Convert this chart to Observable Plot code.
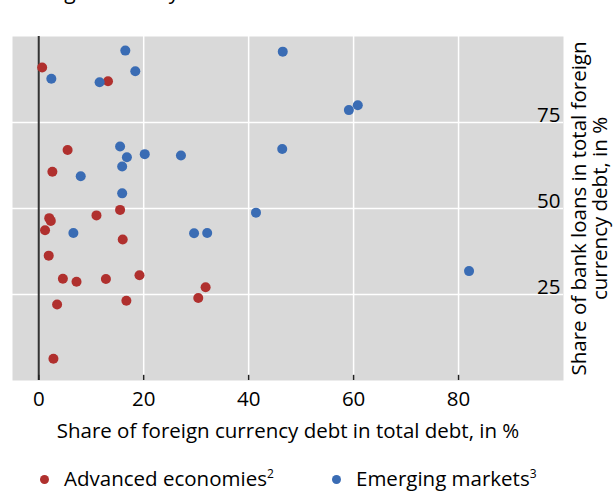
<!DOCTYPE html>
<html>
<head>
<meta charset="utf-8">
<script src="https://cdn.jsdelivr.net/npm/d3@7"></script>
<script src="https://cdn.jsdelivr.net/npm/@observablehq/plot@0.6"></script>
<style>
  html, body { margin: 0; padding: 0; background: #fff; overflow: hidden; }
  body { width: 614px; height: 491px; position: relative; font-family: "Open Sans", sans-serif; color: #000; }
  #title { position: absolute; top: -19px; left: 15px; font-size: 21px; line-height: 21px; white-space: nowrap; }
  #chart { position: absolute; top: 0; left: 0; }
  #legend { position: absolute; top: 465px; left: 0; width: 614px; height: 26px; font-size: 20.5px; line-height: 26px; white-space: nowrap; }
  #legend .item { position: absolute; top: 0; }
  #legend .dot { display: inline-block; width: 9px; height: 9px; border-radius: 50%; vertical-align: middle; margin-right: 15px; position: relative; top: -1px; }
  #legend sup { font-size: 12px; line-height: 0; }
</style>
</head>
<body>
<div id="title">Foreign currency debt and bank loans</div>
<div id="chart"></div>
<div id="legend"></div>
<script>
// Data (x: share of FX debt in total debt, %; y: share of bank loans in total FX debt, %)
const advancedX = [0.65, 13.2, 5.5, 2.6, 15.5, 11.0, 2.0, 2.3, 1.2, 16.0, 1.9, 4.6, 7.2, 12.8, 19.2, 31.8, 30.4, 3.5, 16.7, 2.8];
const advancedY = [91.0, 87.0, 67.0, 60.7, 49.6, 48.0, 47.2, 46.4, 43.7, 41.0, 36.3, 29.6, 28.7, 29.5, 30.6, 27.1, 24.0, 22.1, 23.2, 6.3];
const emergingX = [16.5, 2.4, 11.6, 18.4, 15.5, 16.8, 20.2, 27.1, 15.9, 8.0, 15.9, 6.6, 29.6, 32.1, 46.5, 59.1, 60.8, 46.4, 41.4, 82.0];
const emergingY = [95.9, 87.7, 86.7, 89.9, 68.0, 64.9, 65.8, 65.4, 62.2, 59.4, 54.4, 42.9, 42.8, 42.9, 95.6, 78.6, 80.0, 67.3, 48.8, 31.8];
const xTicks = [0, 20, 40, 60, 80];
const xGrid = [20, 40, 60, 80];
const yTicks = [25, 50, 75];
const seriesNames = ["Advanced economies", "Emerging markets"];
const seriesSup = ["2", "3"];
const seriesColors = ["#b0302e", "#3a6cb4"];
const xLabel = "Share of foreign currency debt in total debt, in %";
const yLabel = "Share of bank loans in total foreign\ncurrency debt, in %";

const points = [
  ...advancedX.map((x, i) => ({x, y: advancedY[i], s: seriesNames[0]})),
  ...emergingX.map((x, i) => ({x, y: emergingY[i], s: seriesNames[1]}))
];

const font = "Open Sans, sans-serif";
const fs = 20.5;
const chart = Plot.plot({
  width: 614,
  height: 455,
  marginTop: 36,
  marginBottom: 75,
  marginLeft: 12,
  marginRight: 51,
  style: {fontFamily: font, fontSize: fs + "px", background: "transparent", color: "#000", overflow: "visible"},
  x: {domain: [-5, 100]},
  y: {domain: [0, 100]},
  color: {domain: seriesNames, range: seriesColors},
  marks: [
    Plot.frame({fill: "#d9d9d9", stroke: null}),
    Plot.ruleX(xGrid, {stroke: "#fff", strokeWidth: 1.5}),
    Plot.ruleY(yTicks, {stroke: "#fff", strokeWidth: 1.5}),
    Plot.ruleX([0], {stroke: "#333", strokeWidth: 2}),
    Plot.ruleX(xTicks, {y1: 0, y2: 1.5, stroke: "#222", strokeWidth: 1.5}),
    Plot.axisX(xTicks, {tickSize: 0, tickPadding: 11, fontSize: fs, label: null, fill: "#000"}),
    Plot.axisY({ticks: [], label: null}),
    Plot.text(yTicks, {x: 100, y: d => d, text: d => String(d), textAnchor: "end", lineAnchor: "bottom", dx: -3, dy: -1, fontSize: fs, fill: "#000"}),
    Plot.dot(points, {x: "x", y: "y", fill: "s", r: 5, stroke: null}),
    Plot.text([xLabel], {frameAnchor: "bottom", dy: 57, fontSize: fs, fill: "#000"}),
    Plot.text([yLabel], {frameAnchor: "right", rotate: -90, dx: 26, fontSize: fs, lineHeight: 1.05, fill: "#000", textAnchor: "middle", lineAnchor: "middle"})
  ]
});
document.getElementById("chart").appendChild(chart);

const legend = document.getElementById("legend");
const legendLeft = [40, 332];
seriesNames.forEach((name, i) => {
  const item = document.createElement("div");
  item.className = "item";
  item.style.left = legendLeft[i] + "px";
  item.innerHTML = `<span class="dot" style="background:${seriesColors[i]}"></span>${name}<sup>${seriesSup[i]}</sup>`;
  legend.appendChild(item);
});
</script>
</body>
</html>
